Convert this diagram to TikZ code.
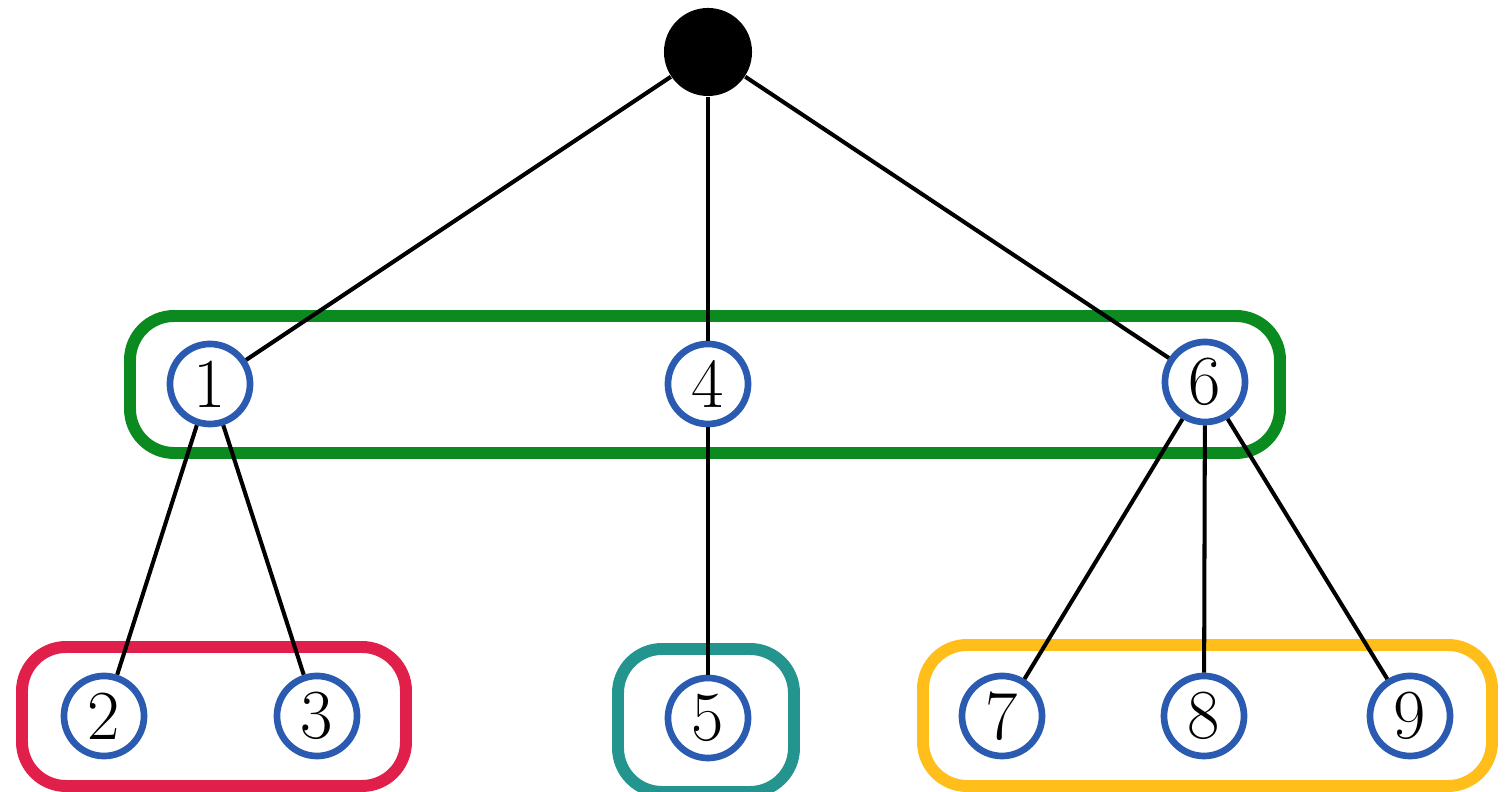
\documentclass[tikz,border=0pt]{standalone}
\begin{document}
\begin{tikzpicture}[x=0.01cm,y=-0.01cm,
  vtx/.style={circle,draw=vblue,line width=1.9pt,fill=white,minimum size=0.80cm,inner sep=0pt,font=\fontsize{20}{24}\selectfont},
  rootv/.style={circle,fill=black,minimum size=0.88cm,inner sep=0pt},
  grp/.style={rounded corners=0.44cm,line width=3.4pt},
  edge/.style={line width=1.15pt,black}]
\definecolor{vblue}{HTML}{2A5BB0}
\definecolor{ggreen}{HTML}{0A8A1F}
\definecolor{gred}{HTML}{E0204A}
\definecolor{gteal}{HTML}{23958E}
\definecolor{gyellow}{HTML}{FFBE1A}
\useasboundingbox (0,0) rectangle (1508,792);
% groups
\draw[grp,draw=ggreen] (130,316) rectangle (1280,453);
\draw[grp,draw=gred] (22,647) rectangle (406,786);
\draw[grp,draw=gteal] (618,649) rectangle (794,792);
\draw[grp,draw=gyellow] (923,645) rectangle (1492,786);
% vertices
\node[rootv] (r) at (708,52) {};
\node[vtx] (n1) at (210,384) {1};
\node[vtx] (n4) at (708,384) {4};
\node[vtx] (n6) at (1205,382) {6};
\node[vtx] (n2) at (104,716) {2};
\node[vtx] (n3) at (317,716) {3};
\node[vtx] (n5) at (708,718) {5};
\node[vtx] (n7) at (1002,716) {7};
\node[vtx] (n8) at (1204,716) {8};
\node[vtx] (n9) at (1410,716) {9};
% edges
\draw[edge] (r) -- (n1);
\draw[edge] (r) -- (n4);
\draw[edge] (r) -- (n6);
\draw[edge] (n1) -- (n2);
\draw[edge] (n1) -- (n3);
\draw[edge] (n4) -- (n5);
\draw[edge] (n6) -- (n7);
\draw[edge] (n6) -- (n8);
\draw[edge] (n6) -- (n9);
\end{tikzpicture}
\end{document}
